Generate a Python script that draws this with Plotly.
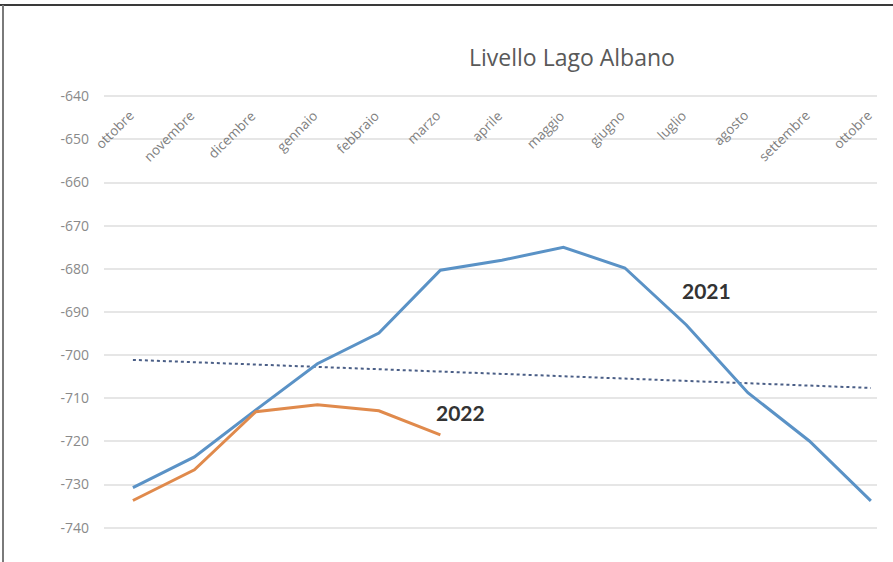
import plotly.graph_objects as go

months = ["ottobre", "novembre", "dicembre", "gennaio", "febbraio", "marzo", "aprile",
          "maggio", "giugno", "luglio", "agosto", "settembre", "ottobre"]
x_idx = list(range(len(months)))

level_2021 = [-730.7, -723.6, -712.7, -702.0, -694.9, -680.3, -678.0, -675.0,
              -679.8, -693.0, -708.7, -719.9, -733.8]
level_2022 = [-733.7, -726.6, -713.1, -711.5, -712.9, -718.5]
trend_x = [0, 12]
trend_y = [-701.1, -707.6]

y_ticks = list(range(-740, -630, 10))

# plot-area geometry in pixels
W, H = 893, 562
L, R, T, B = 104, 16, 92, 30
PW, PH = W - L - R, H - T - B


def px_x(p):
    return (p - L) / PW


def px_y(p):
    return 1 - (p - T) / PH


fig = go.Figure()
fig.add_trace(go.Scatter(x=trend_x, y=trend_y, mode="lines",
                         line=dict(color="#4a5e86", width=2, dash="dot"),
                         showlegend=False, hoverinfo="skip"))
fig.add_trace(go.Scatter(x=x_idx, y=level_2021, mode="lines", name="2021",
                         line=dict(color="#5a92c6", width=3), showlegend=False))
fig.add_trace(go.Scatter(x=x_idx[:len(level_2022)], y=level_2022, mode="lines", name="2022",
                         line=dict(color="#e08a4c", width=3), showlegend=False))

# category labels (drawn at the top, inside the plot, rotated)
for i, m in enumerate(months):
    fig.add_annotation(x=i, y=-641.8, xref="x", yref="y", text=m, showarrow=False,
                       textangle=-45, xanchor="right", yanchor="top", xshift=7,
                       font=dict(family="Open Sans", size=13.5, color="#7f7f7f"))

fig.add_annotation(x=9.33, y=-685.1, text="2021", showarrow=False,
                   font=dict(family="Lato", size=21, color="#333333", weight="bold"))
fig.add_annotation(x=5.32, y=-713.4, text="2022", showarrow=False,
                   font=dict(family="Lato", size=21, color="#333333", weight="bold"))

fig.add_annotation(x=px_x(572), y=px_y(57), xref="paper", yref="paper",
                   text="Livello Lago Albano", showarrow=False,
                   xanchor="center", yanchor="middle",
                   font=dict(family="Open Sans", size=23, color="#595959"))

# frame lines (top and left)
fig.add_shape(type="line", xref="paper", yref="paper",
              x0=px_x(0), x1=px_x(W), y0=px_y(5), y1=px_y(5),
              line=dict(color="#3a3a3a", width=2))
fig.add_shape(type="line", xref="paper", yref="paper",
              x0=px_x(3), x1=px_x(3), y0=px_y(5), y1=px_y(H),
              line=dict(color="#7a7a7a", width=2))

fig.update_layout(
    width=W, height=H,
    margin=dict(l=L, r=R, t=T, b=B),
    paper_bgcolor="white", plot_bgcolor="white",
)
fig.update_xaxes(range=[-0.47, 12.1], showgrid=False, zeroline=False,
                 showticklabels=False, ticks="")
fig.update_yaxes(range=[-741, -639], tickvals=y_ticks, ticktext=[str(v) for v in y_ticks],
                 showgrid=True, gridcolor="#e6e6e6", gridwidth=1.5, zeroline=False,
                 tickfont=dict(family="Open Sans", size=14, color="#8a8a8a"),
                 ticks="", ticklabelstandoff=14)

fig.write_html("out.html")
